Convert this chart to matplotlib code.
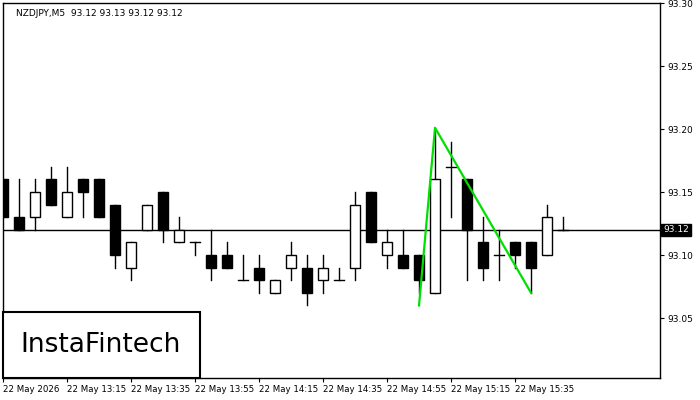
import matplotlib
matplotlib.use("Agg")
import matplotlib.pyplot as plt
from matplotlib.patches import Rectangle

opens  = [93.16,93.13,93.13,93.16,93.13,93.16,93.16,93.14,93.09,93.12,93.15,93.11,93.11,93.10,93.10,93.08,93.09,93.07,93.09,93.09,93.08,
          93.08,93.09,93.15,93.10,93.10,93.10,93.07,93.17,93.16,93.11,93.10,93.11,93.11,93.10,93.12]
highs  = [93.16,93.16,93.16,93.17,93.17,93.16,93.16,93.14,93.11,93.14,93.15,93.13,93.11,93.12,93.11,93.10,93.10,93.08,93.11,93.10,93.10,
          93.09,93.15,93.15,93.12,93.12,93.10,93.20,93.19,93.16,93.13,93.12,93.11,93.11,93.14,93.13]
lows   = [93.13,93.12,93.12,93.14,93.13,93.13,93.13,93.09,93.08,93.12,93.11,93.11,93.10,93.08,93.09,93.08,93.07,93.07,93.08,93.06,93.07,
          93.08,93.08,93.11,93.09,93.09,93.07,93.07,93.13,93.08,93.08,93.08,93.09,93.07,93.10,93.12]
closes = [93.13,93.12,93.15,93.14,93.15,93.15,93.13,93.10,93.11,93.14,93.12,93.12,93.11,93.09,93.09,93.08,93.08,93.08,93.10,93.07,93.09,
          93.08,93.14,93.11,93.11,93.09,93.08,93.16,93.17,93.12,93.09,93.10,93.10,93.09,93.13,93.12]
pattern_idx = [26, 27, 33]
pattern_px = [93.06, 93.201, 93.07]
tick_idx = [0, 4, 8, 12, 16, 20, 24, 28, 32]
tick_labels = ["22 May 2026", "22 May 13:15", "22 May 13:35", "22 May 13:55", "22 May 14:15",
               "22 May 14:35", "22 May 14:55", "22 May 15:15", "22 May 15:35"]
price_ticks = [93.05, 93.10, 93.15, 93.20, 93.25, 93.30]
last_price = 93.12

fig = plt.figure(figsize=(7, 4), dpi=100)
ax = fig.add_axes([3/700, 22/400, 657/700, 375/400])
w = 0.6
for i, (o, h, l, c) in enumerate(zip(opens, highs, lows, closes)):
    ax.plot([i, i], [l, h], color="black", lw=1, zorder=2)
    if o == c:
        ax.plot([i - w/2, i + w/2], [o, o], color="black", lw=1, zorder=3)
    else:
        fc = "white" if c > o else "black"
        ax.add_patch(Rectangle((i - w/2, min(o, c)), w, abs(c - o), facecolor=fc,
                               edgecolor="black", lw=1, zorder=3))
ax.axhline(last_price, color="black", lw=1, zorder=1)
ax.plot(pattern_idx, pattern_px, color="#00e000", lw=1.6, zorder=4)

ax.set_xlim(0, 41.06)
ax.set_ylim(93.0024, 93.30)
ax.yaxis.tick_right()
ax.set_yticks(price_ticks)
ax.set_yticklabels([f"{p:.2f}" for p in price_ticks], fontsize=6.5)
ax.set_xticks(tick_idx)
ax.set_xticklabels(tick_labels, fontsize=6.2, ha="left")
ax.tick_params(direction="out", length=3, pad=2)
for s in ax.spines.values():
    s.set_linewidth(1)
ax.text(0.5/41.06 + 0.008, 0.985, "NZDJPY,M5  93.12 93.13 93.12 93.12", transform=ax.transAxes,
        fontsize=6.5, va="top", ha="left")
ax.text(1.005, (last_price - 93.0024) / (93.30 - 93.0024), "93.12", transform=ax.transAxes,
        fontsize=6.5, color="white", va="center", ha="left",
        bbox=dict(boxstyle="square,pad=0.2", fc="black", ec="black"))
fig.patches.append(Rectangle((3/700, 22/400), 197/700, 66/400, transform=fig.transFigure,
                             facecolor="white", edgecolor="black", lw=1.5, zorder=10))
fig.text(101/700, 55/400, "InstaFintech", fontsize=19, ha="center", va="center", zorder=11)
fig.savefig("out.png", dpi=100)
